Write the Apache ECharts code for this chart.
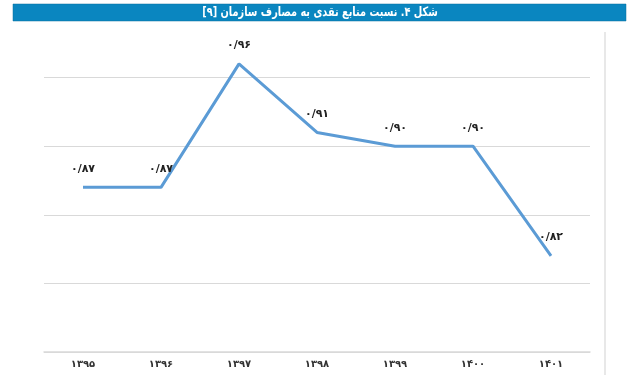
<!DOCTYPE html>
<html>
<head>
<meta charset="utf-8">
<script src="https://cdn.jsdelivr.net/npm/echarts@6/dist/echarts.min.js"></script>
<style>
html,body{margin:0;padding:0;background:#fff;}
#c{width:640px;height:375px;}
</style>
</head>
<body>
<div id="c"></div>
<script>
const titleText = 'شکل ۴. نسبت منابع نقدی به مصارف سازمان [۹]';
const categories = ['۱۳۹۵','۱۳۹۶','۱۳۹۷','۱۳۹۸','۱۳۹۹','۱۴۰۰','۱۴۰۱'];
const values = [0.87, 0.87, 0.96, 0.91, 0.90, 0.90, 0.82];
const valueLabels = ['۰/۸۷','۰/۸۷','۰/۹۶','۰/۹۱','۰/۹۰','۰/۹۰','۰/۸۲'];

const chart = echarts.init(document.getElementById('c'), null, {renderer:'canvas'});
chart.setOption({
  animation:false,
  backgroundColor:'#fff',
  grid:{left:44, right:50, top:9, bottom:23},
  xAxis:{
    type:'category',
    data:categories,
    boundaryGap:true,
    axisLine:{show:true, lineStyle:{color:'#d9d9d9', width:1.5}},
    axisTick:{show:false},
    axisLabel:{color:'#333', fontSize:10, fontWeight:'bold', fontFamily:'DejaVu Sans', margin:7}
  },
  yAxis:{
    type:'value',
    min:0.75, max:1.0, interval:0.05,
    axisLine:{show:false}, axisTick:{show:false}, axisLabel:{show:false},
    splitLine:{lineStyle:{color:'#d9d9d9', width:1}}
  },
  series:[{
    type:'line',
    data:values,
    showSymbol:true,
    showAllSymbol:true,
    symbol:'circle',
    symbolSize:2,
    itemStyle:{color:'rgba(91,155,213,0)', borderWidth:0},
    lineStyle:{color:'#5b9bd5', width:3},
    label:{
      show:true, position:'top', distance:12,
      formatter:function(p){ return valueLabels[p.dataIndex]; },
      color:'#222', fontSize:11, fontWeight:'bold', fontFamily:'DejaVu Sans'
    },
    labelLayout:{hideOverlap:false},
    z:3
  }],
  graphic:[
    {type:'rect', z:100, shape:{x:13, y:4, width:613, height:17}, style:{fill:'#0a86c0', stroke:'#0a6f9e', lineWidth:0.5}},
    {type:'text', z:101, x:320, y:12.5, scaleX:0.75, style:{text:titleText, fill:'#fff', font:'bold 13px "DejaVu Sans"', align:'center', verticalAlign:'middle'}},
    {type:'rect', z:50, shape:{x:604, y:32, width:2, height:343}, style:{fill:'#e8e8e8'}}
  ]
});
</script>
</body>
</html>
